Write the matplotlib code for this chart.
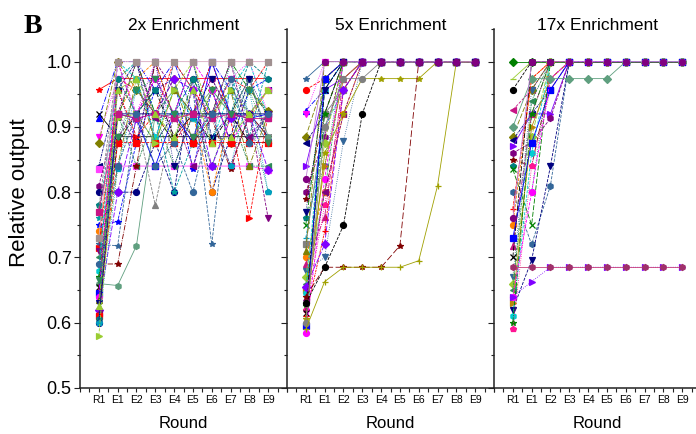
import matplotlib
matplotlib.use('Agg')
import matplotlib.pyplot as plt
from matplotlib.ticker import MultipleLocator, FixedLocator

plt.rcParams['font.family'] = ['Liberation Sans', 'DejaVu Sans']

rounds = ['R1', 'E1', 'E2', 'E3', 'E4', 'E5', 'E6', 'E7', 'E8', 'E9']
titles = ['2x Enrichment', '5x Enrichment', '17x Enrichment']

# relative output per clone, one row per clone, columns follow `rounds`
runs_2x = [
    [0.957, 0.974, 0.974, 0.974, 0.974, 0.974, 0.974, 0.974, 0.974, 0.974],
    [0.920, 0.885, 0.885, 0.885, 0.885, 0.885, 0.885, 0.885, 0.885, 0.885],
    [0.913, 1.000, 1.000, 0.957, 1.000, 0.920, 1.000, 0.957, 0.920, 0.885],
    [0.885, 0.974, 0.920, 1.000, 0.876, 0.957, 0.920, 0.974, 1.000, 0.920],
    [0.876, 1.000, 0.957, 0.920, 0.974, 0.876, 0.957, 0.876, 0.957, 0.925],
    [0.840, 0.957, 1.000, 0.876, 0.920, 1.000, 0.885, 0.920, 0.920, 0.957],
    [0.835, 0.840, 0.840, 0.840, 0.840, 0.840, 0.840, 0.840, 0.840, 0.834],
    [0.810, 0.920, 0.876, 1.000, 0.957, 0.920, 0.974, 0.920, 0.876, 0.920],
    [0.800, 0.800, 0.800, 0.876, 0.800, 0.974, 0.800, 0.885, 0.974, 0.876],
    [0.780, 0.876, 0.957, 0.913, 0.920, 1.000, 0.876, 1.000, 0.920, 0.800],
    [0.775, 1.000, 0.913, 0.780, 0.920, 0.913, 0.920, 0.913, 0.920, 0.913],
    [0.760, 0.974, 1.000, 0.920, 0.800, 0.876, 0.920, 0.957, 0.885, 1.000],
    [0.750, 0.755, 0.876, 0.957, 0.974, 0.835, 0.957, 0.876, 0.957, 0.974],
    [0.740, 0.920, 0.974, 1.000, 0.913, 0.920, 0.800, 0.920, 0.913, 0.957],
    [0.720, 0.718, 0.920, 0.876, 1.000, 0.957, 0.720, 0.974, 0.920, 0.876],
    [0.715, 0.957, 0.885, 0.920, 0.876, 0.920, 1.000, 0.913, 0.760, 0.920],
    [0.710, 0.885, 0.920, 0.974, 0.920, 0.885, 0.920, 0.840, 0.920, 0.760],
    [0.700, 0.920, 0.840, 0.920, 0.840, 0.920, 0.840, 0.920, 0.840, 0.840],
    [0.690, 0.690, 0.840, 1.000, 0.913, 0.876, 0.913, 0.835, 0.920, 0.885],
    [0.680, 1.000, 0.974, 0.885, 0.957, 0.913, 0.876, 0.957, 1.000, 0.913],
    [0.670, 0.913, 1.000, 0.920, 0.876, 0.974, 0.920, 1.000, 0.957, 0.920],
    [0.660, 0.657, 0.718, 0.920, 0.957, 0.920, 0.957, 0.920, 0.974, 0.885],
    [0.655, 0.876, 0.920, 0.957, 0.885, 0.920, 0.876, 0.920, 0.876, 0.876],
    [0.650, 0.974, 0.957, 0.920, 1.000, 0.957, 0.913, 0.974, 0.957, 1.000],
    [0.645, 0.920, 0.913, 0.840, 0.920, 0.876, 1.000, 0.920, 0.913, 0.920],
    [0.640, 1.000, 0.920, 0.974, 0.920, 1.000, 0.957, 0.876, 0.920, 0.957],
    [0.635, 0.840, 0.974, 0.876, 0.957, 0.920, 0.920, 0.957, 0.840, 0.920],
    [0.630, 0.957, 0.876, 1.000, 0.840, 0.920, 0.974, 0.920, 0.974, 0.913],
    [0.620, 0.800, 0.913, 0.920, 0.974, 0.957, 0.840, 0.913, 0.920, 0.834],
    [0.615, 0.920, 1.000, 0.913, 0.920, 0.840, 0.920, 1.000, 0.885, 0.920],
    [0.610, 0.876, 0.876, 0.876, 0.876, 0.876, 0.876, 0.876, 0.876, 0.876],
    [0.605, 0.974, 0.920, 0.957, 0.920, 0.974, 0.920, 0.920, 1.000, 0.974],
    [0.600, 0.920, 0.920, 0.920, 0.920, 0.920, 0.920, 0.920, 0.920, 0.920],
    [0.600, 0.835, 0.957, 0.920, 0.920, 0.913, 0.920, 0.840, 0.957, 0.800],
    [0.580, 0.913, 0.920, 0.876, 0.957, 1.000, 0.913, 0.957, 0.920, 0.957],
    [0.730, 1.000, 1.000, 1.000, 1.000, 1.000, 1.000, 1.000, 1.000, 1.000],
    [0.770, 0.920, 0.913, 0.920, 0.913, 0.920, 0.913, 0.920, 0.913, 0.913],
    [0.690, 0.840, 0.920, 0.840, 0.876, 0.800, 0.920, 0.974, 0.876, 0.920],
    [0.625, 0.957, 0.974, 0.920, 0.885, 0.957, 0.876, 0.885, 0.920, 0.957],
    [0.665, 0.885, 0.957, 0.974, 0.920, 0.885, 0.957, 0.920, 0.957, 0.876],
]

runs_5x = [
    [0.974, 1.000, 1.000, 1.000, 1.000, 1.000, 1.000, 1.000, 1.000, 1.000],
    [0.957, 0.974, 1.000, 1.000, 1.000, 1.000, 1.000, 1.000, 1.000, 1.000],
    [0.925, 0.957, 1.000, 1.000, 1.000, 1.000, 1.000, 1.000, 1.000, 1.000],
    [0.920, 1.000, 1.000, 1.000, 1.000, 1.000, 1.000, 1.000, 1.000, 1.000],
    [0.885, 0.974, 1.000, 1.000, 1.000, 1.000, 1.000, 1.000, 1.000, 1.000],
    [0.876, 0.920, 1.000, 1.000, 1.000, 1.000, 1.000, 1.000, 1.000, 1.000],
    [0.840, 0.957, 0.974, 1.000, 1.000, 1.000, 1.000, 1.000, 1.000, 1.000],
    [0.800, 0.885, 1.000, 1.000, 1.000, 1.000, 1.000, 1.000, 1.000, 1.000],
    [0.790, 0.920, 1.000, 1.000, 1.000, 1.000, 1.000, 1.000, 1.000, 1.000],
    [0.760, 0.840, 1.000, 1.000, 1.000, 1.000, 1.000, 1.000, 1.000, 1.000],
    [0.750, 0.974, 1.000, 1.000, 1.000, 1.000, 1.000, 1.000, 1.000, 1.000],
    [0.730, 0.900, 0.957, 1.000, 1.000, 1.000, 1.000, 1.000, 1.000, 1.000],
    [0.720, 0.920, 0.957, 1.000, 1.000, 1.000, 1.000, 1.000, 1.000, 1.000],
    [0.700, 0.800, 0.920, 1.000, 1.000, 1.000, 1.000, 1.000, 1.000, 1.000],
    [0.690, 0.762, 0.974, 1.000, 1.000, 1.000, 1.000, 1.000, 1.000, 1.000],
    [0.680, 0.700, 0.878, 1.000, 1.000, 1.000, 1.000, 1.000, 1.000, 1.000],
    [0.670, 0.876, 1.000, 1.000, 1.000, 1.000, 1.000, 1.000, 1.000, 1.000],
    [0.660, 0.800, 1.000, 1.000, 1.000, 1.000, 1.000, 1.000, 1.000, 1.000],
    [0.650, 0.840, 0.974, 1.000, 1.000, 1.000, 1.000, 1.000, 1.000, 1.000],
    [0.645, 0.957, 1.000, 1.000, 1.000, 1.000, 1.000, 1.000, 1.000, 1.000],
    [0.625, 0.920, 1.000, 1.000, 1.000, 1.000, 1.000, 1.000, 1.000, 1.000],
    [0.620, 0.780, 0.957, 1.000, 1.000, 1.000, 1.000, 1.000, 1.000, 1.000],
    [0.615, 0.957, 1.000, 1.000, 1.000, 1.000, 1.000, 1.000, 1.000, 1.000],
    [0.610, 0.740, 0.957, 1.000, 1.000, 1.000, 1.000, 1.000, 1.000, 1.000],
    [0.595, 0.974, 1.000, 1.000, 1.000, 1.000, 1.000, 1.000, 1.000, 1.000],
    [0.585, 0.820, 1.000, 1.000, 1.000, 1.000, 1.000, 1.000, 1.000, 1.000],
    [0.710, 1.000, 1.000, 1.000, 1.000, 1.000, 1.000, 1.000, 1.000, 1.000],
    [0.770, 0.957, 1.000, 1.000, 1.000, 1.000, 1.000, 1.000, 1.000, 1.000],
    [0.655, 0.720, 0.957, 1.000, 1.000, 1.000, 1.000, 1.000, 1.000, 1.000],
    [0.635, 0.800, 0.920, 1.000, 1.000, 1.000, 1.000, 1.000, 1.000, 1.000],
    [0.605, 0.860, 0.920, 0.974, 0.974, 0.974, 0.974, 1.000, 1.000, 1.000],
    [0.600, 0.900, 0.974, 0.974, 1.000, 1.000, 1.000, 1.000, 1.000, 1.000],
    [0.640, 0.685, 0.685, 0.685, 0.685, 0.718, 1.000, 1.000, 1.000, 1.000],
    [0.630, 0.685, 0.749, 0.920, 1.000, 1.000, 1.000, 1.000, 1.000, 1.000],
    [0.590, 0.663, 0.685, 0.685, 0.685, 0.685, 0.695, 0.810, 1.000, 1.000],
    [0.820, 1.000, 1.000, 1.000, 1.000, 1.000, 1.000, 1.000, 1.000, 1.000],
]

runs_17x = [
    [1.000, 1.000, 1.000, 1.000, 1.000, 1.000, 1.000, 1.000, 1.000, 1.000],
    [0.974, 1.000, 1.000, 1.000, 1.000, 1.000, 1.000, 1.000, 1.000, 1.000],
    [0.957, 1.000, 1.000, 1.000, 1.000, 1.000, 1.000, 1.000, 1.000, 1.000],
    [0.926, 0.957, 1.000, 1.000, 1.000, 1.000, 1.000, 1.000, 1.000, 1.000],
    [0.885, 0.957, 1.000, 1.000, 1.000, 1.000, 1.000, 1.000, 1.000, 1.000],
    [0.880, 0.920, 0.957, 1.000, 1.000, 1.000, 1.000, 1.000, 1.000, 1.000],
    [0.870, 0.920, 0.920, 1.000, 1.000, 1.000, 1.000, 1.000, 1.000, 1.000],
    [0.860, 0.876, 0.913, 1.000, 1.000, 1.000, 1.000, 1.000, 1.000, 1.000],
    [0.850, 0.840, 0.974, 1.000, 1.000, 1.000, 1.000, 1.000, 1.000, 1.000],
    [0.840, 0.800, 1.000, 1.000, 1.000, 1.000, 1.000, 1.000, 1.000, 1.000],
    [0.835, 0.750, 1.000, 1.000, 1.000, 1.000, 1.000, 1.000, 1.000, 1.000],
    [0.800, 0.720, 0.810, 1.000, 1.000, 1.000, 1.000, 1.000, 1.000, 1.000],
    [0.620, 0.696, 0.840, 1.000, 1.000, 1.000, 1.000, 1.000, 1.000, 1.000],
    [0.750, 0.974, 1.000, 1.000, 1.000, 1.000, 1.000, 1.000, 1.000, 1.000],
    [0.718, 0.920, 1.000, 1.000, 1.000, 1.000, 1.000, 1.000, 1.000, 1.000],
    [0.670, 0.957, 1.000, 1.000, 1.000, 1.000, 1.000, 1.000, 1.000, 1.000],
    [0.660, 0.885, 1.000, 1.000, 1.000, 1.000, 1.000, 1.000, 1.000, 1.000],
    [0.650, 0.940, 1.000, 1.000, 1.000, 1.000, 1.000, 1.000, 1.000, 1.000],
    [0.630, 0.900, 0.974, 1.000, 1.000, 1.000, 1.000, 1.000, 1.000, 1.000],
    [0.610, 0.860, 1.000, 1.000, 1.000, 1.000, 1.000, 1.000, 1.000, 1.000],
    [0.600, 0.920, 1.000, 1.000, 1.000, 1.000, 1.000, 1.000, 1.000, 1.000],
    [0.590, 0.840, 0.957, 1.000, 1.000, 1.000, 1.000, 1.000, 1.000, 1.000],
    [0.700, 1.000, 1.000, 1.000, 1.000, 1.000, 1.000, 1.000, 1.000, 1.000],
    [0.775, 0.974, 1.000, 1.000, 1.000, 1.000, 1.000, 1.000, 1.000, 1.000],
    [0.730, 0.876, 0.957, 1.000, 1.000, 1.000, 1.000, 1.000, 1.000, 1.000],
    [0.640, 0.800, 0.974, 1.000, 1.000, 1.000, 1.000, 1.000, 1.000, 1.000],
    [0.900, 0.974, 0.974, 0.974, 0.974, 0.974, 1.000, 1.000, 1.000, 1.000],
    [0.640, 0.663, 0.685, 0.685, 0.685, 0.685, 0.685, 0.685, 0.685, 0.685],
    [0.685, 0.685, 0.685, 0.685, 0.685, 0.685, 0.685, 0.685, 0.685, 0.685],
    [0.760, 1.000, 1.000, 1.000, 1.000, 1.000, 1.000, 1.000, 1.000, 1.000],
]

# Origin-like style cycle
colors = ['#000000', '#FF0000', '#0000FF', '#FF00FF', '#808000', '#000080',
          '#8000FF', '#800080', '#800000', '#008080', '#008000', '#00A0C0',
          '#808080', '#FF8000', '#C71585', '#336699', '#9ACD32', '#2E8B57',
          '#B8860B', '#00CED1', '#008000', '#FF1493']
markers = ['s', 'o', '^', 'v', 'D', '<', '>', 'h', '*', 'p', 'x', '+']
dashes = ['-', '--', '-.', ':', (0, (6, 2)), (0, (3, 1, 1, 1))]

# hand-picked styles for the clones that stand out
special_2x = {
    0: dict(color='#FF0000', marker='*', ls='-'),
    1: dict(color='#000000', marker='x', ls='-'),
    6: dict(color='#FF40FF', marker='s', ls='-'),
    8: dict(color='#000080', marker='o', ls='--'),
    10: dict(color='#808080', marker='^', ls='--'),
    11: dict(color='#00A0A0', marker='*', ls='--'),
    12: dict(color='#0000FF', marker='*', ls='--'),
    14: dict(color='#336699', marker='*', ls='--'),
    15: dict(color='#FF0000', marker='>', ls='--'),
    16: dict(color='#800080', marker='v', ls='--'),
    18: dict(color='#800000', marker='*', ls='-.'),
    21: dict(color='#5F9F7F', marker='h', ls='-'),
    30: dict(color='#FF0000', marker='s', ls='--'),
    32: dict(color='#000080', marker='o', ls='-'),
    34: dict(color='#9ACD32', marker='>', ls='--'),
    35: dict(color='#D8A8C0', marker='s', ls='-', mfc='#A09090'),
}
special_5x = {
    0: dict(color='#336699', marker='*', ls='-'),
    30: dict(color='#A0A000', marker='*', ls='-'),
    31: dict(color='#808080', marker='o', ls='-'),
    32: dict(color='#800000', marker='*', ls=(0, (8, 3))),
    33: dict(color='#000000', marker='o', ls='--'),
    34: dict(color='#A0A000', marker='+', ls='-'),
    35: dict(color='#C080D8', marker='o', ls='-', mfc='#800080'),
}
special_17x = {
    0: dict(color='#008000', marker='D', ls='-'),
    1: dict(color='#9ACD32', marker='_', ls='-'),
    2: dict(color='#000000', marker='o', ls='--'),
    3: dict(color='#C71585', marker='<', ls='--'),
    11: dict(color='#336699', marker='h', ls='--'),
    12: dict(color='#000080', marker='v', ls='--'),
    26: dict(color='#5F9F7F', marker='D', ls='-'),
    27: dict(color='#8000FF', marker='>', ls=':'),
    28: dict(color='#C8407A', marker='h', ls='-', mfc='#A0306A'),
    29: dict(color='#C080D8', marker='o', ls='-', mfc='#800080'),
}


def series_style(i, special):
    st = dict(color=colors[i % len(colors)], marker=markers[i % len(markers)],
              ls=dashes[i % len(dashes)])
    st.update(special.get(i, {}))
    return st


W, H = 696, 434
fig = plt.figure(figsize=(W / 100, H / 100), dpi=100)
left, pw, top, bot = 80, 207, 29, 388

panels = [(runs_2x, special_2x), (runs_5x, special_5x), (runs_17x, special_17x)]
xs = list(range(len(rounds)))

for k, (runs, special) in enumerate(panels):
    ax = fig.add_axes([(left + k * pw) / W, (H - bot) / H, pw / W, (bot - top) / H])
    for i, vals in enumerate(runs):
        st = series_style(i, special)
        mfc = st.get('mfc', st['color'])
        ax.plot(xs, vals, color=st['color'], ls=st['ls'], lw=0.6,
                marker=st['marker'], ms=4.3, mfc=mfc, mec=mfc, mew=0.9)

    ax.set_xlim(-1, 10)
    ax.set_ylim(0.5, 1.05)
    for side in ['top', 'right']:
        ax.spines[side].set_visible(False)
    for side in ['left', 'bottom']:
        ax.spines[side].set_linewidth(1.1)
        ax.spines[side].set_color('#222222')

    ax.xaxis.set_major_locator(FixedLocator(xs))
    ax.set_xticklabels(rounds, fontsize=7.5)
    ax.xaxis.set_minor_locator(MultipleLocator(0.5))
    ax.tick_params(axis='x', which='both', direction='out', length=3,
                   width=0.8, pad=2, color='#222222')

    ax.yaxis.set_major_locator(MultipleLocator(0.1))
    ax.yaxis.set_minor_locator(MultipleLocator(0.05))
    ax.tick_params(axis='y', which='major', direction='out', length=4,
                   width=0.8, color='#222222')
    ax.tick_params(axis='y', which='minor', direction='out', length=2.5,
                   width=0.8, color='#222222')
    if k == 0:
        ax.tick_params(axis='y', labelsize=13, pad=2)
        ax.set_yticks([0.5, 0.6, 0.7, 0.8, 0.9, 1.0])
        ax.set_yticklabels(['0.5', '0.6', '0.7', '0.8', '0.9', '1.0'])
    else:
        ax.tick_params(axis='y', labelleft=False)

    ax.text(0.5, 1.0 - 1.5 / (bot - top), titles[k], transform=ax.transAxes,
            ha='center', va='baseline', fontsize=12.5)
    ax.set_xlabel('Round', fontsize=12, labelpad=8)

fig.text(20 / W, 1 - 193 / H, 'Relative output', rotation=90, fontsize=16,
         ha='center', va='center')
fig.text(24 / W, 1 - 33 / H, 'B', fontfamily='Liberation Serif',
         fontweight='bold', fontsize=20, va='baseline')

fig.savefig('out.png', dpi=100)
